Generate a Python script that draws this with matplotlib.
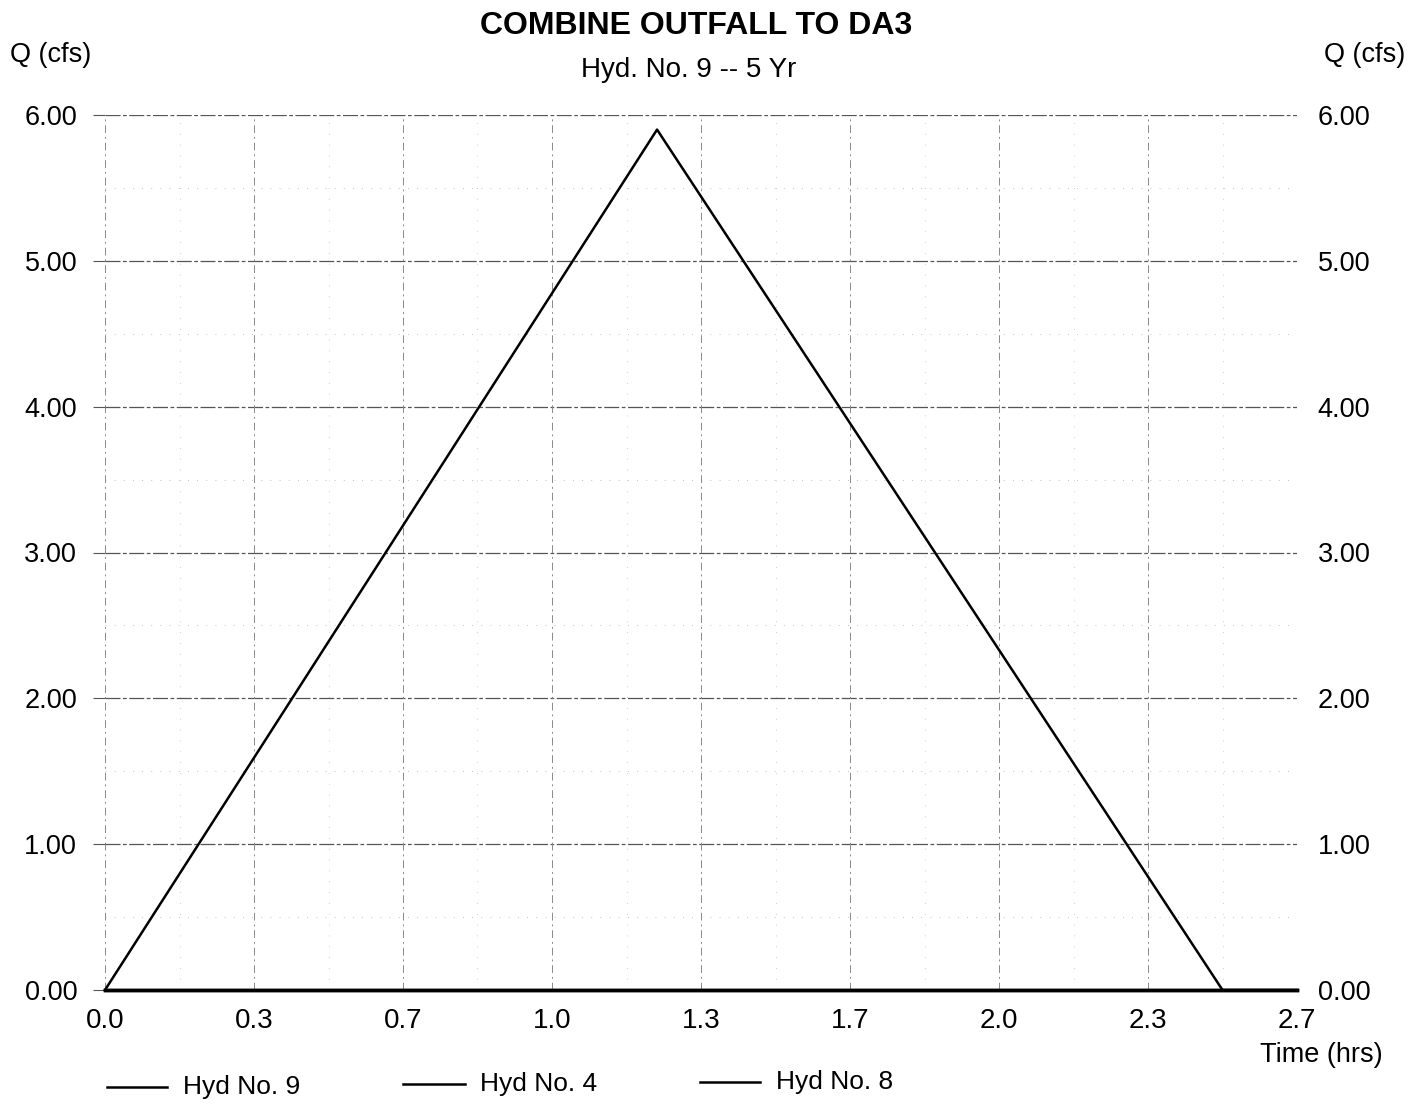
import matplotlib
matplotlib.use("Agg")
import matplotlib.pyplot as plt
import matplotlib.transforms as mtransforms
import numpy as np

plt.rcParams['font.family'] = ['Liberation Sans', 'DejaVu Sans']

# Data
time_hyd9 = [0.0, 1.235, 2.50, 2.667]
q_hyd9 = [0.0, 5.90, 0.0, 0.0]
time_hyd4 = [0.0, 2.667]
q_hyd4 = [0.0, 0.0]
time_hyd8 = [0.0, 2.667]
q_hyd8 = [0.0, 0.0]
x_ticks = [0.0, 1/3, 2/3, 1.0, 4/3, 5/3, 2.0, 7/3, 8/3]
x_tick_labels = ["0.0", "0.3", "0.7", "1.0", "1.3", "1.7", "2.0", "2.3", "2.7"]
y_ticks = [0, 1, 2, 3, 4, 5, 6]
y_tick_labels = ["0.00", "1.00", "2.00", "3.00", "4.00", "5.00", "6.00"]

W, H = 1421, 1106
fig = plt.figure(figsize=(W/100, H/100), dpi=100)
L, R, T, B = 105, 1297, 115, 990
ax = fig.add_axes([L/W, (H-B)/H, (R-L)/W, (B-T)/H])

ax.set_xlim(0, 8/3)
ax.set_ylim(0, 6)
for s in ax.spines.values():
    s.set_visible(False)

# grid
for yv in y_ticks:
    ax.axhline(yv, color='#555555', lw=0.9, ls=(0, (12, 2, 3, 2)), zorder=1)
for yv in np.arange(0.5, 6, 1.0):
    ax.axhline(yv, color='#b0b0b0', lw=0.6, ls=(0, (1, 10)), zorder=1)
for xv in x_ticks:
    ax.axvline(xv, color='#8a8a8a', lw=0.7, ls=(0, (8, 4, 2, 4)), zorder=1)
for xv in np.array(x_ticks[:-1]) + 1/6:
    ax.axvline(xv, color='#c0c0c0', lw=0.6, ls=(0, (1, 12)), zorder=1)

ax.plot(time_hyd4, q_hyd4, color='black', lw=2.5, zorder=3, clip_on=False)
ax.plot(time_hyd8, q_hyd8, color='black', lw=2.5, zorder=3, clip_on=False)
ax.plot(time_hyd9, q_hyd9, color='black', lw=1.8, zorder=4, clip_on=False)

ax.set_xticks(x_ticks)
ax.set_xticklabels(x_tick_labels, fontsize=20)
ax.set_yticks(y_ticks)
ax.set_yticklabels(y_tick_labels, fontsize=19.5)
ax.tick_params(axis='x', length=0, pad=13)
ax.tick_params(axis='y', left=True, right=False, length=9, width=0.8,
               color='#555555', pad=11, labelleft=True, labelright=True)

# right labels: pull closer to the plot
offset = mtransforms.ScaledTranslation(-7/100, 0, fig.dpi_scale_trans)
for t in ax.yaxis.get_major_ticks():
    t.label2.set_transform(t.label2.get_transform() + offset)

# titles and labels
fig.text(696/W, 1 - 26/H, "COMBINE OUTFALL TO DA3", ha='center', va='center',
         fontsize=23, fontweight='bold')
fig.text(689/W, 1 - 70/H, "Hyd. No. 9 -- 5 Yr", ha='center', va='center', fontsize=20)
fig.text(10/W, 1 - 55/H, "Q (cfs)", ha='left', va='center', fontsize=19.5)
fig.text(1405/W, 1 - 55/H, "Q (cfs)", ha='right', va='center', fontsize=19.5)
fig.text(1383/W, 1 - 1055/H, "Time (hrs)", ha='right', va='center', fontsize=19.5)

# legend
leg = [(107, 167, 183, 1087, "Hyd No. 9"), (403, 465, 480, 1084, "Hyd No. 4"),
       (700, 760, 776, 1082, "Hyd No. 8")]
for x0, x1, xt, yy, lab in leg:
    fig.add_artist(plt.Line2D([x0/W, x1/W], [1 - yy/H, 1 - yy/H], color='black', lw=1.8))
    fig.text(xt/W, 1 - yy/H, lab, ha='left', va='center', fontsize=19)

fig.savefig("out.png", dpi=100)
